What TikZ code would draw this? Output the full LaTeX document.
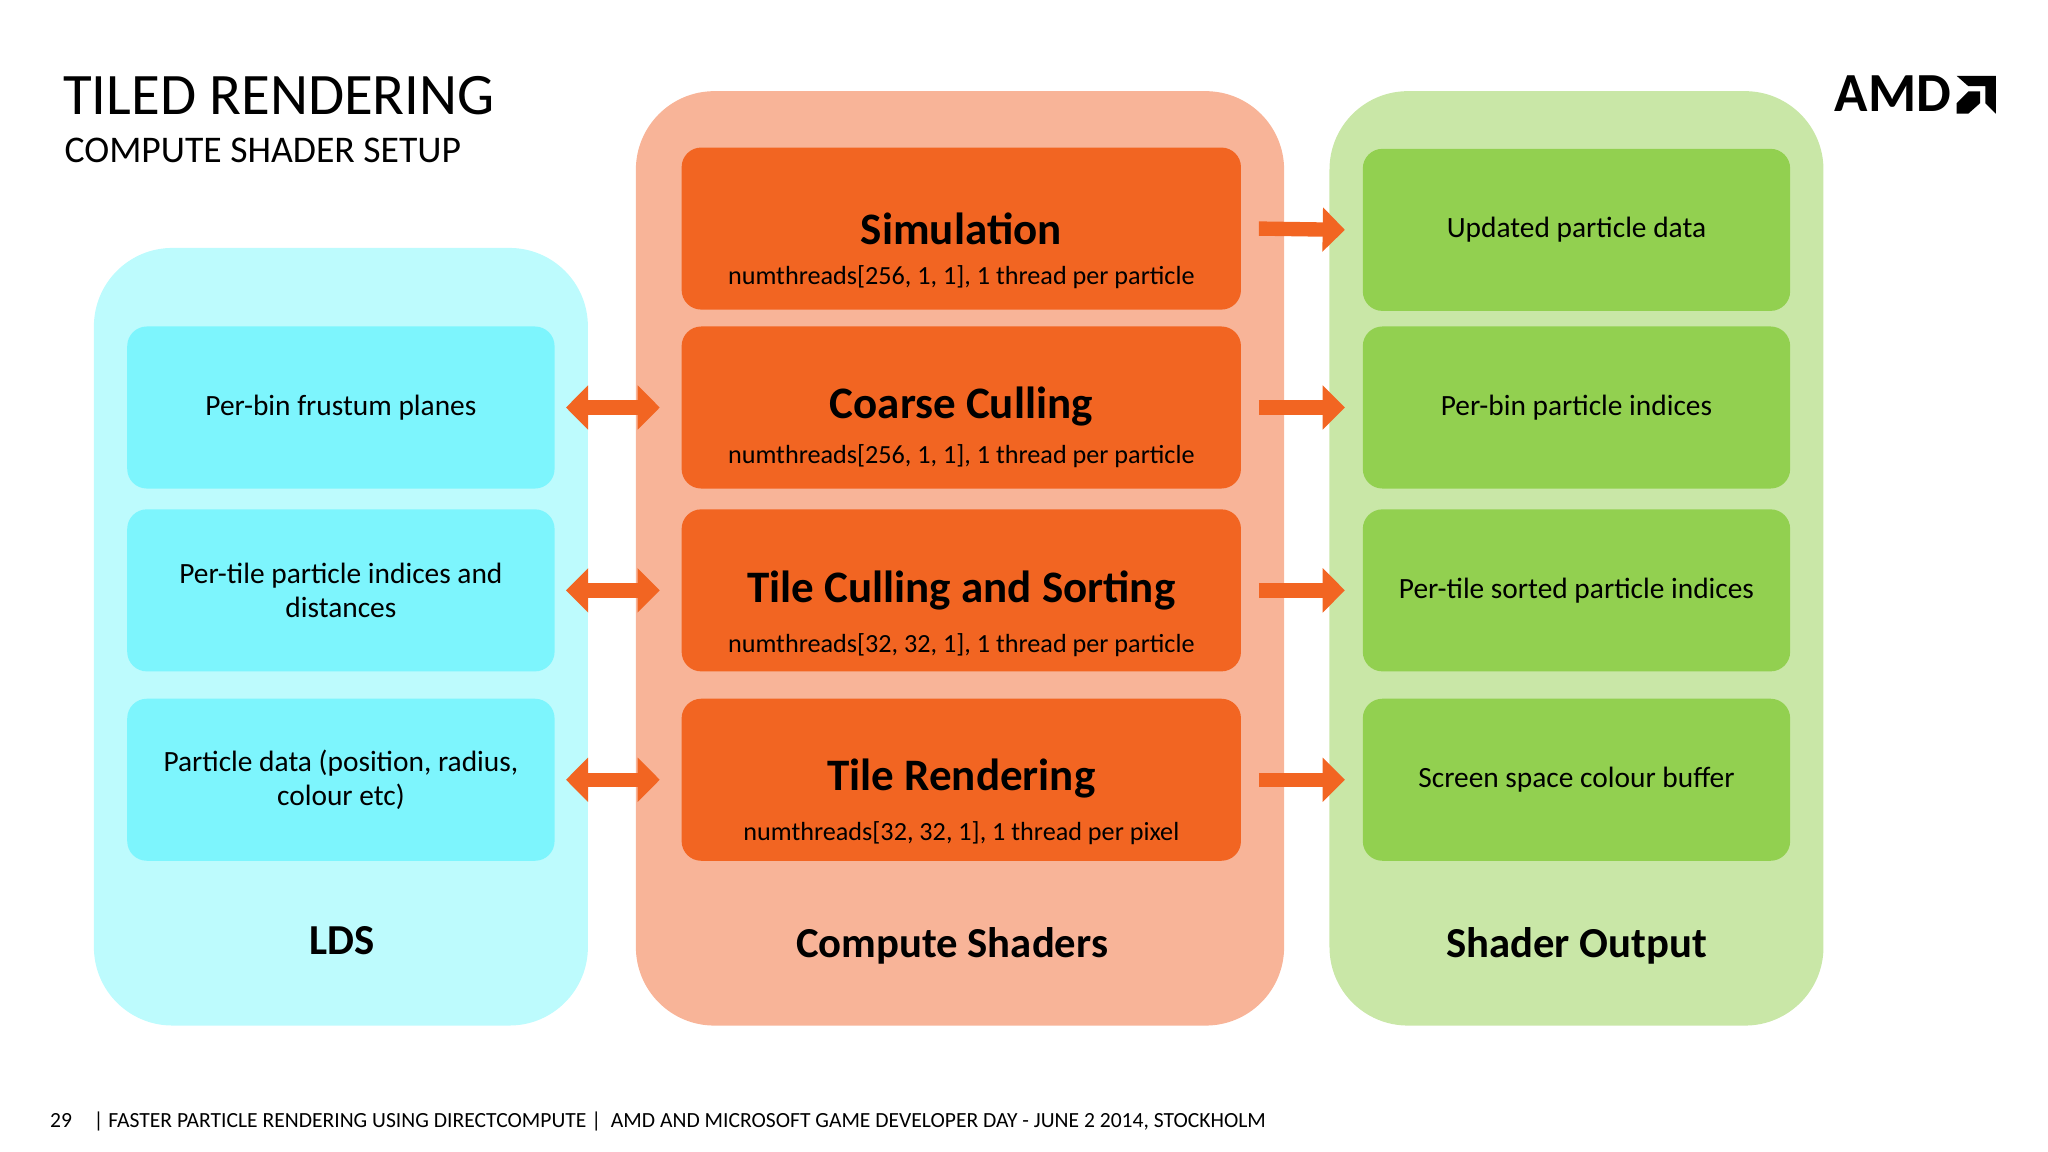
\documentclass[tikz,border=0pt]{standalone}
\usepackage{fontspec}
\setmainfont{Carlito}
\usepackage{tikz}
\usetikzlibrary{positioning,arrows.meta,calc}
\definecolor{ldsout}{HTML}{BDFBFD}
\definecolor{ldsin}{HTML}{7DF5FD}
\definecolor{csout}{HTML}{F8B498}
\definecolor{csin}{HTML}{F26522}
\definecolor{soout}{HTML}{C9E7A7}
\definecolor{soin}{HTML}{92D050}
\begin{document}
\begin{tikzpicture}[
    x=0.01cm, y=-0.01cm,
    panel/.style={rounded corners=0.6cm, inner sep=0pt},
    box/.style={rounded corners=0.15cm, inner sep=0pt, align=center, font=\fontsize{6.4pt}{7.6pt}\selectfont},
    ldsbox/.style={box, fill=ldsin, minimum width=3.27cm, minimum height=1.24cm},
    csbox/.style={box, fill=csin, minimum width=4.28cm, minimum height=1.24cm},
    sobox/.style={box, fill=soin, minimum width=3.27cm, minimum height=1.24cm},
    head/.style={font=\fontsize{9.3pt}{11pt}\selectfont\bfseries},
    big/.style={font=\fontsize{9.8pt}{12pt}\selectfont\bfseries},
    small/.style={font=\fontsize{5.7pt}{7pt}\selectfont},
    arrow/.style={line width=0.11cm, csin, -{Triangle[length=0.17cm, width=0.33cm]}},
    darrow/.style={line width=0.11cm, csin, {Triangle[length=0.17cm, width=0.33cm]}-{Triangle[length=0.17cm, width=0.33cm]}},
]
    \useasboundingbox (0,0) rectangle (1568,882);
    % Panels
    \node[panel, fill=ldsout, minimum width=3.78cm, minimum height=5.95cm] (lds) at (261,487.5) {};
    \node[panel, fill=csout, minimum width=4.96cm, minimum height=7.15cm] (cs) at (735,427.5) {};
    \node[panel, fill=soout, minimum width=3.78cm, minimum height=7.15cm] (so) at (1207,427.5) {};

    % Title
    \node[anchor=west, font=\fontsize{12.8pt}{15pt}\selectfont] (title) at (36,73) {TILED RENDERING};
    \node[anchor=west, font=\fontsize{8.2pt}{10pt}\selectfont] (subtitle) at (37,115) {COMPUTE SHADER SETUP};

    % Compute shaders
    \node[csbox] (sim) at (736,175) {};
    \node[csbox] (coarse) at (736,312) {};
    \node[csbox] (tile) at (736,452) {};
    \node[csbox] (render) at (736,597) {};
    \node[big] at (736,175) {Simulation};
    \node[big] at (736,311) {Coarse Culling};
    \node[big] at (736,452) {Tile Culling and Sorting};
    \node[big] at (736,596) {Tile Rendering};
    \node[small] at (736,212) {numthreads[256, 1, 1], 1 thread per particle};
    \node[small] at (736,349) {numthreads[256, 1, 1], 1 thread per particle};
    \node[small] at (736,494) {numthreads[32, 32, 1], 1 thread per particle};
    \node[small] at (736,638) {numthreads[32, 32, 1], 1 thread per pixel};

    % LDS
    \node[ldsbox] (frustum) at (261,312) {Per-bin frustum planes};
    \node[ldsbox] (tileidx) at (261,452) {Per-tile particle indices and\\distances};
    \node[ldsbox] (pdata) at (261,597) {Particle data (position, radius,\\colour etc)};

    % Shader output
    \node[sobox] (updated) at (1207,176) {Updated particle data};
    \node[sobox] (binidx) at (1207,312) {Per-bin particle indices};
    \node[sobox] (sorted) at (1207,452) {Per-tile sorted particle indices};
    \node[sobox] (colour) at (1207,597) {Screen space colour buffer};

    % Panel labels
    \node[head] at (262,720) {LDS};
    \node[head] at (729,724) {Compute Shaders};
    \node[head] at (1207,724) {Shader Output};

    % Arrows
    \draw[darrow] ([xshift=0.08cm]frustum.east) -- ([xshift=-0.16cm]coarse.west);
    \draw[darrow] ([xshift=0.08cm]tileidx.east) -- ([xshift=-0.16cm]tile.west);
    \draw[darrow] ([xshift=0.08cm]pdata.east) -- ([xshift=-0.16cm]render.west);
    \draw[arrow] ([xshift=0.13cm]sim.east) -- ([xshift=-0.13cm]updated.west);
    \draw[arrow] ([xshift=0.13cm]coarse.east) -- ([xshift=-0.13cm]binidx.west);
    \draw[arrow] ([xshift=0.13cm]tile.east) -- ([xshift=-0.13cm]sorted.west);
    \draw[arrow] ([xshift=0.13cm]render.east) -- ([xshift=-0.13cm]colour.west);

    % Logo
    \node[anchor=west, inner sep=0pt, font=\fontsize{12pt}{14pt}\selectfont\bfseries] (amd) at (1404,72) {AMD};
    \fill[black] (1498,58) -- (1528,58) -- (1528,87) -- (1520,79) -- (1520,66) -- (1507,66) -- cycle;
    \fill[black] (1498,79) -- (1507,70) -- (1516,70) -- (1516,79) -- (1507,87) -- (1498,87) -- cycle;

    % Footer
    \node[anchor=west, font=\fontsize{4.7pt}{5.5pt}\selectfont] (footer) at (26,859) {29\quad| FASTER PARTICLE RENDERING USING DIRECTCOMPUTE |\ \ AMD AND MICROSOFT GAME DEVELOPER DAY - JUNE 2 2014, STOCKHOLM};
\end{tikzpicture}
\end{document}
